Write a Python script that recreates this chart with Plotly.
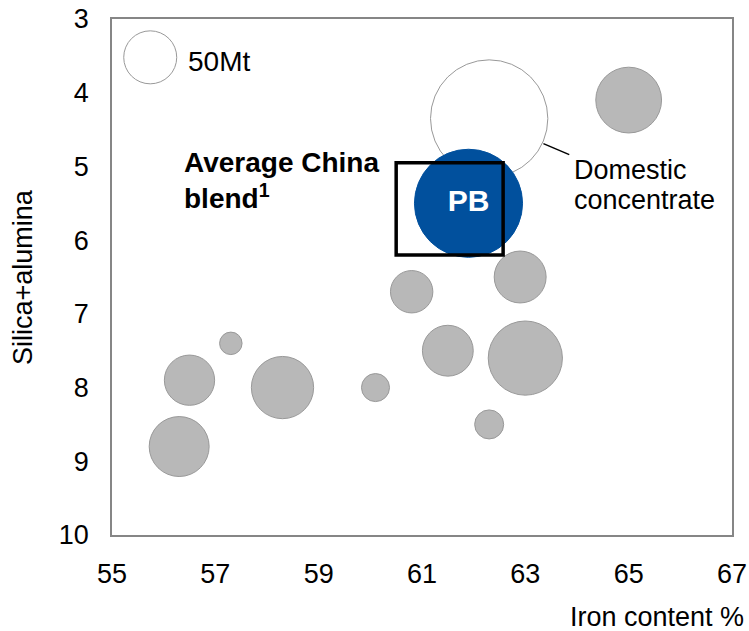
import plotly.graph_objects as go

# Seaborne iron ore products: Fe content (%), silica+alumina (%), volume (Mt)
ore_fe = [57.3, 56.5, 58.3, 56.3, 60.8, 62.9, 61.5, 63.0, 60.1, 62.3, 65.0]
ore_sial = [7.4, 7.9, 8.0, 8.8, 6.7, 6.5, 7.5, 7.6, 8.0, 8.5, 4.1]
ore_mt = [9, 45, 69, 64, 32, 48, 46, 98, 14, 15, 77]

# Chinese domestic concentrate
domestic_fe = [62.3]
domestic_sial = [4.35]
domestic_mt = [245]

# Pilbara Blend
pb_fe = [61.9]
pb_sial = [5.5]
pb_mt = [208]
pb_label = ["PB"]

# Bubble size key
key_fe = [55.74]
key_sial = [3.52]
key_mt = [50]
key_label = "50Mt"

# Average China blend window
blend_fe = [60.5, 62.57]
blend_sial = [4.95, 6.2]

# Callout line for the domestic concentrate bubble
callout_fe = [63.35, 63.85]
callout_sial = [4.69, 4.84]

x_ticks = [55, 57, 59, 61, 63, 65, 67]
y_ticks = [3, 4, 5, 6, 7, 8, 9, 10]

FONT = "Liberation Sans, Arial, sans-serif"
GREY_FILL = "#b8b8b8"
GREY_LINE = "#999999"
BLUE = "#01509d"
TXT = 27

# diameter of the 50 Mt key bubble in pixels
KEY_DIAMETER = 53
sizeref = 2.0 * key_mt[0] / KEY_DIAMETER ** 2

fig = go.Figure()

fig.add_trace(go.Scatter(
    x=domestic_fe, y=domestic_sial, mode="markers",
    marker=dict(size=domestic_mt, sizemode="area", sizeref=sizeref,
                color="white", line=dict(color=GREY_LINE, width=1), opacity=1),
    hoverinfo="skip", showlegend=False,
))

fig.add_trace(go.Scatter(
    x=ore_fe, y=ore_sial, mode="markers",
    marker=dict(size=ore_mt, sizemode="area", sizeref=sizeref,
                color=GREY_FILL, line=dict(color=GREY_LINE, width=1), opacity=1),
    hoverinfo="skip", showlegend=False,
))

fig.add_trace(go.Scatter(
    x=pb_fe, y=pb_sial, mode="markers+text",
    text=[f"<b>{t}</b>" for t in pb_label], textposition="middle center",
    textfont=dict(family=FONT, size=30, color="white"),
    marker=dict(size=pb_mt, sizemode="area", sizeref=sizeref,
                color=BLUE, line=dict(color=BLUE, width=1), opacity=1),
    hoverinfo="skip", showlegend=False,
))

fig.add_trace(go.Scatter(
    x=key_fe, y=key_sial, mode="markers",
    marker=dict(size=key_mt, sizemode="area", sizeref=sizeref,
                color="white", line=dict(color=GREY_LINE, width=1), opacity=1),
    hoverinfo="skip", showlegend=False,
))

fig.add_shape(type="rect", xref="x", yref="y",
              x0=blend_fe[0], x1=blend_fe[1], y0=blend_sial[0], y1=blend_sial[1],
              line=dict(color="black", width=3.5), layer="above")

fig.add_shape(type="line", xref="x", yref="y",
              x0=callout_fe[0], x1=callout_fe[1], y0=callout_sial[0], y1=callout_sial[1],
              line=dict(color="black", width=1.5), layer="above")

annotations = [
    dict(x=56.43, y=3.58, xref="x", yref="y", text=key_label,
         xanchor="left", yanchor="middle", showarrow=False,
         font=dict(family=FONT, size=28, color="black")),
    dict(x=56.36, y=5.19, xref="x", yref="y",
         text="<b>Average China<br>blend<sup>1</sup></b>", align="left",
         xanchor="left", yanchor="middle", showarrow=False,
         font=dict(family=FONT, size=28, color="black")),
    dict(x=63.9, y=5.05, xref="x", yref="y", text="Domestic",
         xanchor="left", yanchor="middle", showarrow=False,
         font=dict(family=FONT, size=TXT, color="black")),
    dict(x=63.9, y=5.456, xref="x", yref="y", text="concentrate",
         xanchor="left", yanchor="middle", showarrow=False,
         font=dict(family=FONT, size=TXT, color="black")),
    dict(x=1, y=0, xref="paper", yref="paper", text="Iron content %",
         xanchor="right", yanchor="middle", xshift=14, yshift=-82, showarrow=False,
         font=dict(family=FONT, size=TXT, color="black")),
    dict(x=0, y=0.5, xref="paper", yref="paper", text="Silica+alumina",
         textangle=-90, xanchor="center", yanchor="middle", xshift=-89, showarrow=False,
         font=dict(family=FONT, size=TXT, color="black")),
]

axis_common = dict(
    showgrid=False, zeroline=False, showline=True, mirror=True,
    linecolor="#868686", linewidth=1.5, ticks="", automargin=False,
    tickfont=dict(family=FONT, size=TXT, color="black"),
)

fig.update_layout(
    width=749, height=631, autosize=False,
    margin=dict(l=112, r=17, t=19, b=96, pad=0),
    paper_bgcolor="white", plot_bgcolor="white",
    font=dict(family=FONT, size=TXT, color="black"),
    xaxis=dict(range=[55, 67], tickvals=x_ticks, ticktext=[str(v) for v in x_ticks],
               ticklabelstandoff=14, **axis_common),
    yaxis=dict(range=[10, 3], tickvals=y_ticks, ticktext=[str(v) for v in y_ticks],
               ticklabelstandoff=16, **axis_common),
    annotations=annotations,
)

fig.write_html("out.html")
